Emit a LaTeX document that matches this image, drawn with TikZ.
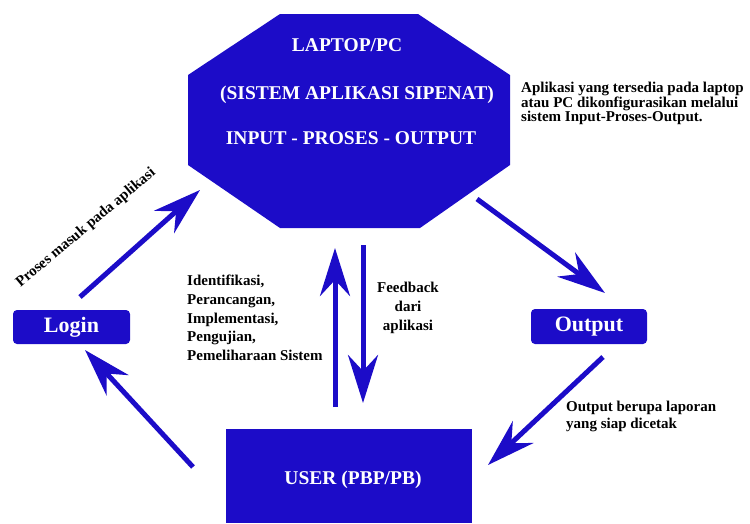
\documentclass[tikz,border=0pt]{standalone}
\usepackage{fontspec}
\setmainfont{Liberation Serif}
\usetikzlibrary{arrows.meta}
\definecolor{bluefill}{RGB}{28,12,200}
\begin{document}
\begin{tikzpicture}[x=1pt,y=-1pt,
  boxtitle/.style={text=white,font=\bfseries\fontsize{19.5}{20}\selectfont,inner sep=0pt},
  smallbox/.style={fill=bluefill,rounded corners=4pt,text=white,font=\bfseries\fontsize{22}{22}\selectfont,inner sep=0pt},
  note/.style={text=black,font=\bfseries\fontsize{15}{18.7}\selectfont,inner sep=0pt},
  bigarrow/.style={draw=bluefill,line width=5pt,-{Stealth[length=48pt,width=30pt,inset=16pt]}}]
\useasboundingbox (0,0) rectangle (750,523);
% octagon
\fill[bluefill] (280,14) -- (418,14) -- (510,75) -- (510,165) -- (420,228) -- (280,228) -- (188,165) -- (188,75) -- cycle;
\node[boxtitle] (t1) at (347,45) {LAPTOP/PC};
\node[boxtitle] (t2) at (357,95) {(SISTEM APLIKASI SIPENAT)};
\node[boxtitle] (t3) at (351,138) {INPUT - PROSES - OUTPUT};
% boxes
\node[smallbox,minimum width=117pt,minimum height=34pt] (login) at (71.5,327) {Login};
\node[smallbox,minimum width=116pt,minimum height=35pt] (output) at (589,326.5) {Output};
\fill[bluefill] (226,429) rectangle (472,523);
\node[boxtitle] (user) at (353,480) {USER (PBP/PB)};
% arrow coordinates
\coordinate (a1s) at (80,297);  \coordinate (a1e) at (200,190);
\coordinate (a2s) at (193,467); \coordinate (a2e) at (85,350);
\coordinate (a3s) at (477,199); \coordinate (a3e) at (605,293);
\coordinate (a4s) at (603,357); \coordinate (a4e) at (488,465);
\coordinate (a5s) at (335,407); \coordinate (a5e) at (335,248);
\coordinate (a6s) at (363,245); \coordinate (a6e) at (363,403);
\draw[bigarrow] (a1s) -- (a1e);
\draw[bigarrow] (a2s) -- (a2e);
\draw[bigarrow] (a3s) -- (a3e);
\draw[bigarrow] (a4s) -- (a4e);
\draw[bigarrow] (a5s) -- (a5e);
\draw[bigarrow] (a6s) -- (a6e);
% labels
\node[note,rotate=40] (lproses) at (86,228) {Proses masuk pada aplikasi};
\node[note,align=left,anchor=north west] (lident) at (187,275) {Identifikasi,\\Perancangan,\\Implementasi,\\Pengujian,\\Pemeliharaan Sistem};
\node[note,align=center] (lfeed) at (408,308) {Feedback\\dari\\aplikasi};
\node[note,align=left,anchor=north west,font=\bfseries\fontsize{15}{17}\selectfont] (lout) at (566,401) {Output berupa laporan\\yang siap dicetak};
\node[note,align=left,anchor=north west,font=\bfseries\fontsize{15}{14.5}\selectfont] (lapl) at (521,82) {Aplikasi yang tersedia pada laptop\\atau PC dikonfigurasikan melalui\\sistem Input-Proses-Output.};
\end{tikzpicture}
\end{document}
